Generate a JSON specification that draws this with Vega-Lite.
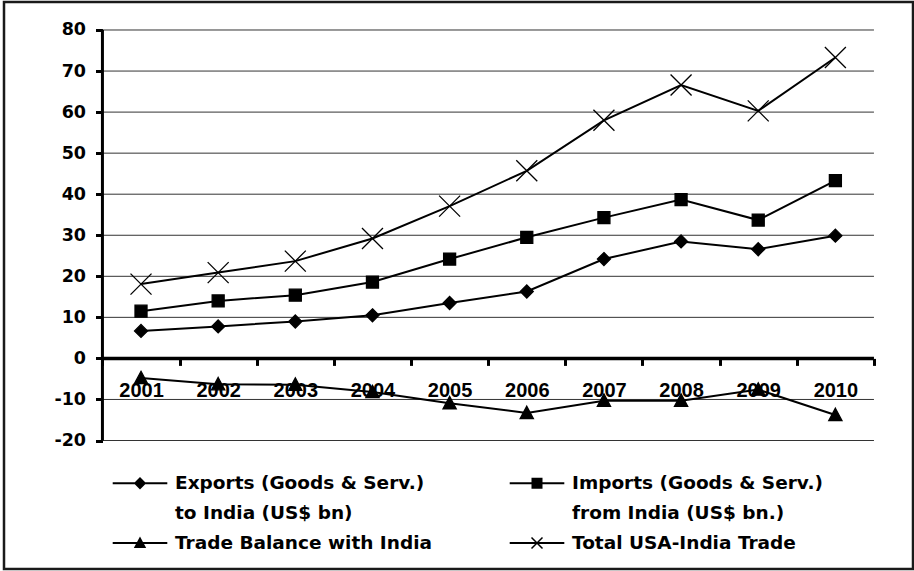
{
  "$schema": "https://vega.github.io/schema/vega-lite/v6.json",
  "width": 909,
  "height": 567,
  "autosize": "none",
  "padding": {"left": 4, "top": 2, "right": 1, "bottom": 2},
  "background": "white",
  "config": {
    "view": {"stroke": "#1a1a1a", "strokeWidth": 2.5, "fill": "white"},
    "font": "DejaVu Sans",
    "style": {"guide-label": {"lineHeight": 30}}
  },
  "datasets": {
    "trade": [
      {"year": "2001", "series": "Exports (Goods & Serv.) to India (US$ bn)", "value": 6.7},
      {"year": "2002", "series": "Exports (Goods & Serv.) to India (US$ bn)", "value": 7.8},
      {"year": "2003", "series": "Exports (Goods & Serv.) to India (US$ bn)", "value": 9.0},
      {"year": "2004", "series": "Exports (Goods & Serv.) to India (US$ bn)", "value": 10.5},
      {"year": "2005", "series": "Exports (Goods & Serv.) to India (US$ bn)", "value": 13.5},
      {"year": "2006", "series": "Exports (Goods & Serv.) to India (US$ bn)", "value": 16.3},
      {"year": "2007", "series": "Exports (Goods & Serv.) to India (US$ bn)", "value": 24.2},
      {"year": "2008", "series": "Exports (Goods & Serv.) to India (US$ bn)", "value": 28.5},
      {"year": "2009", "series": "Exports (Goods & Serv.) to India (US$ bn)", "value": 26.6},
      {"year": "2010", "series": "Exports (Goods & Serv.) to India (US$ bn)", "value": 29.9},
      {"year": "2001", "series": "Imports (Goods & Serv.) from India (US$ bn.)", "value": 11.5},
      {"year": "2002", "series": "Imports (Goods & Serv.) from India (US$ bn.)", "value": 14.0},
      {"year": "2003", "series": "Imports (Goods & Serv.) from India (US$ bn.)", "value": 15.4},
      {"year": "2004", "series": "Imports (Goods & Serv.) from India (US$ bn.)", "value": 18.6},
      {"year": "2005", "series": "Imports (Goods & Serv.) from India (US$ bn.)", "value": 24.2},
      {"year": "2006", "series": "Imports (Goods & Serv.) from India (US$ bn.)", "value": 29.5},
      {"year": "2007", "series": "Imports (Goods & Serv.) from India (US$ bn.)", "value": 34.3},
      {"year": "2008", "series": "Imports (Goods & Serv.) from India (US$ bn.)", "value": 38.7},
      {"year": "2009", "series": "Imports (Goods & Serv.) from India (US$ bn.)", "value": 33.7},
      {"year": "2010", "series": "Imports (Goods & Serv.) from India (US$ bn.)", "value": 43.3},
      {"year": "2001", "series": "Trade Balance with India", "value": -4.8},
      {"year": "2002", "series": "Trade Balance with India", "value": -6.3},
      {"year": "2003", "series": "Trade Balance with India", "value": -6.4},
      {"year": "2004", "series": "Trade Balance with India", "value": -8.2},
      {"year": "2005", "series": "Trade Balance with India", "value": -10.9},
      {"year": "2006", "series": "Trade Balance with India", "value": -13.3},
      {"year": "2007", "series": "Trade Balance with India", "value": -10.3},
      {"year": "2008", "series": "Trade Balance with India", "value": -10.3},
      {"year": "2009", "series": "Trade Balance with India", "value": -7.6},
      {"year": "2010", "series": "Trade Balance with India", "value": -13.8},
      {"year": "2001", "series": "Total USA-India Trade", "value": 18.1},
      {"year": "2002", "series": "Total USA-India Trade", "value": 20.9},
      {"year": "2003", "series": "Total USA-India Trade", "value": 23.7},
      {"year": "2004", "series": "Total USA-India Trade", "value": 29.2},
      {"year": "2005", "series": "Total USA-India Trade", "value": 37.1},
      {"year": "2006", "series": "Total USA-India Trade", "value": 45.7},
      {"year": "2007", "series": "Total USA-India Trade", "value": 58.0},
      {"year": "2008", "series": "Total USA-India Trade", "value": 66.6},
      {"year": "2009", "series": "Total USA-India Trade", "value": 60.3},
      {"year": "2010", "series": "Total USA-India Trade", "value": 73.3}
    ],
    "gridValues": [
      {"v": -20}, {"v": -10}, {"v": 10}, {"v": 20}, {"v": 30},
      {"v": 40}, {"v": 50}, {"v": 60}, {"v": 70}, {"v": 80}
    ]
  },
  "resolve": {"scale": {"shape": "independent"}},
  "layer": [
    {
      "description": "horizontal gridlines spanning the year bands only",
      "data": {"name": "gridValues"},
      "mark": {"type": "rule", "color": "#333333", "strokeWidth": 1},
      "encoding": {
        "y": {"field": "v", "type": "quantitative"},
        "x": {"datum": "2001", "type": "ordinal", "bandPosition": 0},
        "x2": {"datum": "2010", "bandPosition": 1}
      }
    },
    {
      "description": "vertical value axis line",
      "data": {"values": [{}]},
      "mark": {"type": "rule", "color": "black", "strokeWidth": 3},
      "encoding": {
        "x": {"datum": "2001", "type": "ordinal", "bandPosition": 0},
        "y": {"datum": -20, "type": "quantitative"},
        "y2": {"datum": 80}
      }
    },
    {
      "description": "category axis line drawn at zero",
      "data": {"values": [{}]},
      "mark": {"type": "rule", "color": "black", "strokeWidth": 3.5},
      "encoding": {
        "x": {"datum": "2001", "type": "ordinal", "bandPosition": 0},
        "x2": {"datum": "2010", "bandPosition": 1},
        "y": {"datum": 0, "type": "quantitative"}
      }
    },
    {
      "data": {"name": "trade"},
      "mark": {"type": "line", "color": "black", "strokeWidth": 2},
      "encoding": {
        "x": {
          "field": "year",
          "type": "ordinal",
          "scale": {
            "type": "band",
            "domain": ["2001", "2002", "2003", "2004", "2005", "2006", "2007", "2008", "2009", "2010"],
            "paddingInner": 0,
            "paddingOuter": 0.891,
            "align": 0.716
          },
          "axis": {
            "orient": "bottom",
            "offset": -210.6,
            "title": null,
            "domain": false,
            "grid": false,
            "tickBand": "extent",
            "tickSize": 7,
            "tickWidth": 3,
            "tickColor": "black",
            "labelAngle": 0,
            "labelAlign": "center",
            "labelFont": "Liberation Sans",
            "labelFontWeight": "bold",
            "labelFontSize": 20,
            "labelColor": "black",
            "labelPadding": 25
          }
        },
        "y": {
          "field": "value",
          "type": "quantitative",
          "scale": {"domain": [-51.3, 86.82], "nice": false, "zero": false},
          "axis": {
            "values": [-20, -10, 0, 10, 20, 30, 40, 50, 60, 70, 80],
            "offset": -98.5,
            "title": null,
            "domain": false,
            "grid": false,
            "tickSize": 7,
            "tickWidth": 3,
            "tickColor": "black",
            "labelFont": "DejaVu Sans",
            "labelFontWeight": "bold",
            "labelFontSize": 17.5,
            "labelColor": "black",
            "labelPadding": 10,
            "labelExpr": "'' + datum.value"
          }
        },
        "detail": {"field": "series", "type": "nominal"}
      }
    },
    {
      "description": "series markers",
      "data": {"name": "trade"},
      "mark": {
        "type": "point",
        "filled": true,
        "color": "black",
        "stroke": "black",
        "strokeWidth": 1.3,
        "size": 400,
        "opacity": 1
      },
      "encoding": {
        "x": {"field": "year", "type": "ordinal"},
        "y": {"field": "value", "type": "quantitative"},
        "shape": {
          "field": "series",
          "type": "nominal",
          "scale": {
            "domain": [
              "Exports (Goods & Serv.) to India (US$ bn)",
              "Imports (Goods & Serv.) from India (US$ bn.)",
              "Trade Balance with India",
              "Total USA-India Trade"
            ],
            "range": [
              "M0,-0.65L0.65,0L0,0.65L-0.65,0Z",
              "M-0.6,-0.6L0.6,-0.6L0.6,0.6L-0.6,0.6Z",
              "M0,-0.68L0.66,0.56L-0.66,0.56Z",
              "M-1.05,-1.05L1.05,1.05M-1.05,1.05L1.05,-1.05"
            ]
          },
          "legend": null
        }
      }
    },
    {
      "description": "legend keys: line-with-marker symbols, marks themselves not drawn",
      "data": {"name": "trade"},
      "mark": {"type": "point", "filled": true, "color": "black", "size": 400, "opacity": 0},
      "encoding": {
        "x": {"field": "year", "type": "ordinal"},
        "y": {"field": "value", "type": "quantitative"},
        "shape": {
          "field": "series",
          "type": "nominal",
          "scale": {
            "domain": [
              "Exports (Goods & Serv.) to India (US$ bn)",
              "Imports (Goods & Serv.) from India (US$ bn.)",
              "Trade Balance with India",
              "Total USA-India Trade"
            ],
            "range": [
              "M-2.73,-0.1L2.73,-0.1L2.73,0.1L-2.73,0.1ZM0,-0.62L0.62,0L0,0.62L-0.62,0Z",
              "M-2.73,-0.1L2.73,-0.1L2.73,0.1L-2.73,0.1ZM-0.55,-0.55L0.55,-0.55L0.55,0.55L-0.55,0.55Z",
              "M-2.73,-0.1L2.73,-0.1L2.73,0.1L-2.73,0.1ZM0,-0.65L0.62,0.5L-0.62,0.5Z",
              "M-2.73,-0.1L2.73,-0.1L2.73,0.1L-2.73,0.1ZM-0.497,-0.603L0.603,0.497L0.497,0.603L-0.603,-0.497ZM-0.603,0.497L0.497,-0.603L0.603,-0.497L-0.497,0.603Z"
            ]
          },
          "legend": {
            "orient": "none",
            "legendX": 126,
            "legendY": 471,
            "direction": "horizontal",
            "columns": 2,
            "title": null,
            "padding": 0,
            "rowPadding": 10,
            "columnPadding": 77,
            "labelFont": "DejaVu Sans",
            "labelFontWeight": "bold",
            "labelFontSize": 18.5,
            "labelColor": "black",
            "labelLimit": 500,
            "labelOffset": 25,
            "symbolSize": 400,
            "symbolFillColor": "black",
            "symbolStrokeWidth": 0,
            "symbolOpacity": 1,
            "labelExpr": "datum.label == 'Exports (Goods & Serv.) to India (US$ bn)' ? ['Exports (Goods & Serv.)', 'to India (US$ bn)'] : datum.label == 'Imports (Goods & Serv.) from India (US$ bn.)' ? ['Imports (Goods & Serv.)', 'from India (US$ bn.)'] : datum.label"
          }
        }
      }
    }
  ]
}
